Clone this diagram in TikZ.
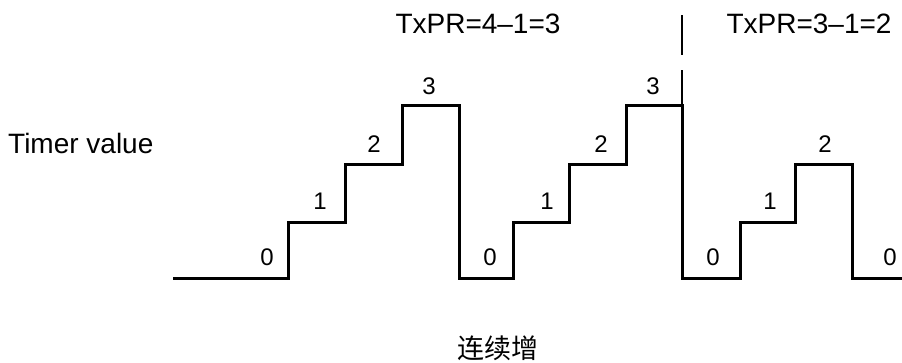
\documentclass[tikz,border=0pt]{standalone}
\usepackage{fontspec}
\setmainfont{Liberation Sans}
\newfontfamily\cjk{Noto Sans CJK SC}
\begin{document}
\begin{tikzpicture}[x=1pt,y=-1pt,
  wave/.style={line width=3pt, line join=miter},
  marker/.style={line width=1.4pt, dash pattern=on 40pt off 15pt},
  steplabel/.style={inner sep=0pt, font=\fontsize{24}{26}\selectfont},
  biglabel/.style={inner sep=0pt, font=\fontsize{28}{30}\selectfont}]
\useasboundingbox (0,0) rectangle (902,362);
% waveform
\draw[wave] (173,278) -- (288,278) -- (288,222) -- (345,222) -- (345,164) -- (402,164) -- (402,105) -- (459,105) -- (459,278)
  -- (513,278) -- (513,222) -- (569,222) -- (569,164) -- (626,164) -- (626,105) -- (682,105) -- (682,278)
  -- (740,278) -- (740,222) -- (795,222) -- (795,164) -- (852,164) -- (852,278) -- (905,278);
% dashed boundary
\coordinate (mtop) at (682,15);
\coordinate (mbot) at (682,105);
\draw[marker] (mtop) -- (mbot);
% step labels
\node[steplabel] (a0) at (267,257) {0};
\node[steplabel] (a1) at (320,201) {1};
\node[steplabel] (a2) at (374,144) {2};
\node[steplabel] (a3) at (429,86) {3};
\node[steplabel] (b0) at (490,257) {0};
\node[steplabel] (b1) at (547,201) {1};
\node[steplabel] (b2) at (601,144) {2};
\node[steplabel] (b3) at (653,86) {3};
\node[steplabel] (c0) at (713,257) {0};
\node[steplabel] (c1) at (770,201) {1};
\node[steplabel] (c2) at (825,144) {2};
\node[steplabel] (d0) at (890,257) {0};
% texts
\node[biglabel, anchor=base west] (tv) at (8,153) {Timer value};
\node[biglabel, anchor=base] (t1) at (478,33) {TxPR=4–1=3};
\node[biglabel, anchor=base] (t2) at (809,33) {TxPR=3–1=2};
\node[inner sep=0pt, font=\cjk\fontsize{27}{29}\selectfont] (cap) at (498,348) {连续增};
\end{tikzpicture}
\end{document}
